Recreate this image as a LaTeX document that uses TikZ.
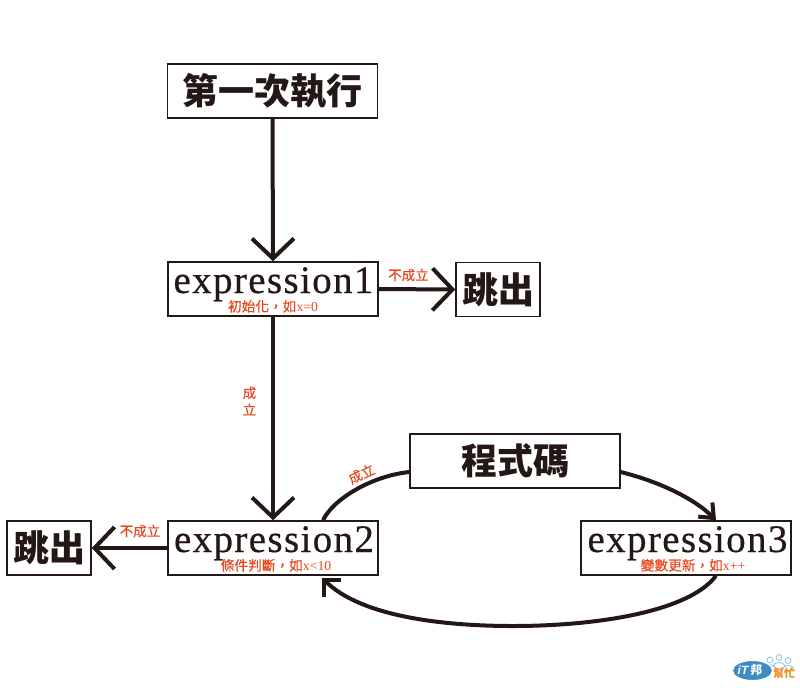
\documentclass[tikz,border=0pt]{standalone}
\usepackage{fontspec}
\usetikzlibrary{arrows.meta}
\setmainfont{Liberation Serif}
\newfontfamily\cjk{Noto Sans CJK TC}
\newfontfamily\cjkm{Noto Sans CJK TC}[FakeBold=0.35]
\newfontfamily\exprfont{Liberation Serif}[LetterSpace=3.5,FakeBold=0.5]
\newfontfamily\logofont{Liberation Sans}
\definecolor{ink}{HTML}{231815}
\definecolor{redtxt}{HTML}{E8481F}
\definecolor{logoblue}{HTML}{3E8CC4}
\definecolor{logoorange}{HTML}{EE8A1E}
\definecolor{logolight}{HTML}{8FC3E6}
\newcommand{\zh}[1]{{\cjkm #1}}
\tikzset{
  bx/.style={draw=ink,line width=1.5pt,fill=white,minimum width=#1,minimum height=54pt,inner sep=0pt,text=ink,font=\cjk\bfseries\fontsize{36}{36}\selectfont},
  bx/.default=210pt,
  exprtxt/.style={anchor=base,inner sep=0pt,text=ink,font=\exprfont\fontsize{39}{39}\selectfont},
  sublab/.style={anchor=base,inner sep=0pt,text=redtxt,font=\fontsize{13.7}{14}\selectfont},
  lab/.style={inner sep=0pt,text=redtxt,font=\cjkm\fontsize{13.5}{16}\selectfont},
  conn/.style={draw=ink,line width=4pt},
  bigtip/.style={conn,-{Straight Barb[length=20pt,width=42pt]}},
  smalltip/.style={conn,-{Straight Barb[length=12pt,width=20pt]}},
  midtip/.style={conn,-{Straight Barb[length=12pt,width=24pt]}},
}
\begin{document}
\begin{tikzpicture}[x=1pt,y=-1pt]
\useasboundingbox[fill=white] (0,0) rectangle (800,691);
% boxes
\node[bx] (first) at (272.5,91) {第一次執行};
\node[bx] (e1) at (273,289) {};
\node[bx=84pt] (exitr) at (498,289.5) {跳出};
\node[bx] (e2) at (273,548) {};
\node[bx=84pt] (exitl) at (49,548) {跳出};
\node[bx] (code) at (515,461) {程式碼};
\node[bx] (e3) at (686,548) {};
% box texts
\node[exprtxt] (e1t) at (273.5,293) {expression1};
\node[exprtxt] (e2t) at (274,552) {expression2};
\node[exprtxt] (e3t) at (687.5,552) {expression3};
\node[sublab] (e1s) at (273,311.5) {\zh{初始化，如}x=0};
\node[sublab] (e2s) at (276,570.5) {\zh{條件判斷，如}x<10};
\node[sublab] (e3s) at (693,570.5) {\zh{變數更新，如}x++};
% connectors
\draw[bigtip] (first.south) -- (e1.north);
\draw[bigtip] (e1.east) -- (exitr.west);
\draw[bigtip] (e1.south) -- (e2.north);
\draw[bigtip] (e2.west) -- (exitl.east);
\draw[conn] ([yshift=-11pt]code.west) .. controls +(-38,4) and +(10,-21) .. ([xshift=50pt]e2.north);
\draw[smalltip] ([yshift=-11pt]code.east) .. controls +(40,10) and +(-21,-21) .. ([xshift=30pt]e3.north);
\coordinate (low) at (513,626);
\draw[midtip] ([xshift=30pt]e3.south) .. controls +(-26,35) and +(87,0) .. (low) .. controls +(-73,0) and +(38,38) .. ([xshift=49pt,yshift=-2pt]e2.south);
% labels
\node[lab] (l1) at (408.5,275) {不成立};
\node[lab,align=center] (l2) at (249.5,401) {成\\[1pt]立};
\node[lab] (l3) at (140,531) {不成立};
\node[lab,rotate=25] (l4) at (361.5,474) {成立};
% logo
\foreach \px/\py/\nm in {770/660/a,779/657.5/b,788/660.5/c}{
  \draw[logolight,line width=0.8pt,fill=white] (\px,\py) circle (3);
  \draw[logolight,line width=0.8pt] (\px-6,\py+10) .. controls (\px-6,\py+3) and (\px+6,\py+3) .. (\px+6,\py+10);
}
\fill[logoblue,draw=white,line width=1pt] (752.5,670.5) ellipse (20 and 10);
\node[inner sep=0pt,text=white,font=\logofont\bfseries\itshape\fontsize{12}{12}\selectfont] (logoa) at (750,670.5) {iT\,{\cjk\bfseries 邦}};
\node[inner sep=0pt,text=logoorange,font=\cjk\bfseries\fontsize{11}{11}\selectfont] (logob) at (784,673) {幫忙};
\end{tikzpicture}
\end{document}
